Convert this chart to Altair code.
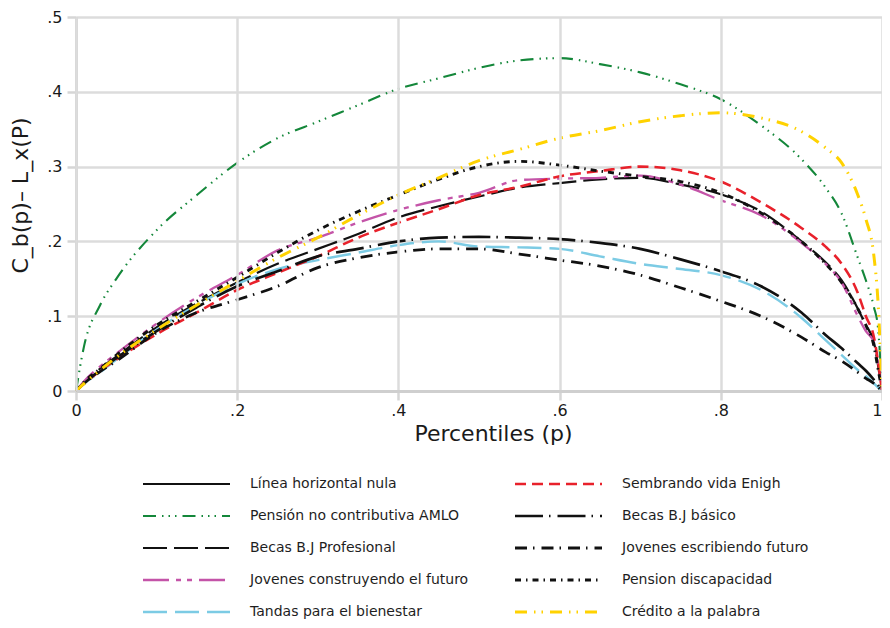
import altair as alt
import pandas as pd

# ---- data ----
P = [0, .01, .03, .05, .1, .15, .2, .25, .3, .35, .4, .45, .5, .55, .6, .65,
     .7, .75, .8, .85, .9, .93, .95, .97, .98, .99, .995, 1]

names = [
    "Línea horizontal nula",
    "Pensión no contributiva AMLO",
    "Becas B.J Profesional",
    "Jovenes construyendo el futuro",
    " Tandas para el bienestar",
    "Sembrando vida Enigh",
    "Becas B.J básico",
    "Jovenes escribiendo futuro",
    "Pension discapacidad",
    " Crédito a la palabra",
]

nula_p = [0, 1]
nula = [0, 0]
amlo = [0, .06, .115, .15, .215, .262, .305, .338, .36, .382, .404, .418, .432, .442,
        .445, .437, .426, .41, .39, .355, .31, .272, .237, .178, .148, .112, .085, 0]
profesional = [0, .011, .03, .046, .085, .117, .145, .17, .19, .21, .232, .247, .26, .272,
               .278, .283, .285, .276, .263, .24, .2, .172, .148, .11, .088, .065, .035, 0]
construyendo = [0, .013, .033, .05, .09, .125, .155, .188, .205, .225, .242, .255, .265, .282,
                .284, .285, .288, .276, .255, .235, .198, .17, .145, .1, .08, .065, .04, 0]
tandas = [0, .01, .025, .042, .082, .115, .143, .163, .175, .185, .195, .2, .193, .192,
          .19, .18, .17, .163, .155, .135, .098, .068, .048, .028, .02, .01, .005, 0]
sembrando = [0, .01, .027, .042, .076, .105, .135, .158, .18, .205, .225, .243, .262, .273,
             .287, .294, .3, .295, .28, .252, .218, .193, .17, .131, .1, .072, .04, 0]
basico = [0, .01, .028, .044, .08, .112, .14, .16, .18, .19, .2, .205, .206, .205,
          .203, .198, .19, .176, .16, .14, .105, .075, .057, .037, .027, .015, .008, 0]
escribiendo = [0, .01, .026, .04, .078, .105, .122, .14, .165, .178, .186, .19, .19, .183,
               .175, .167, .155, .138, .12, .1, .072, .052, .04, .025, .017, .01, .005, 0]
discapacidad = [0, .012, .03, .048, .088, .12, .152, .185, .215, .24, .262, .283, .3, .307,
                .302, .294, .287, .28, .265, .238, .2, .17, .145, .11, .088, .06, .03, 0]
credito = [0, .01, .028, .045, .082, .115, .147, .178, .205, .235, .262, .285, .308, .323,
           .338, .348, .36, .368, .372, .365, .347, .325, .305, .262, .23, .18, .12, 0]

x_ticks = [0, .2, .4, .6, .8, 1]
y_ticks = [0, .1, .2, .3, .4, .5]

# ---- styles ----
FONT = "DejaVu Sans"
colors = ["#111111", "#14873a", "#111111", "#c454a8", "#7ccbe4",
          "#e8212b", "#111111", "#111111", "#111111", "#ffd200"]
dashes = [[1, 0], [13, 6, 1.5, 5, 1.5, 5, 1.5, 6], [24, 7], [26, 7, 5, 6, 5, 7], [24, 8],
          [11, 6], [28, 6, 1.5, 7], [12, 6, 1.5, 7], [6, 5, 1.5, 5], [12, 7, 1.5, 6, 1.5, 7]]
widths = [2, 3, 2, 2, 2, 2, 2, 2, 2, 3.2]

PAD_L, PAD_T = 68, 9
W, H = 806, 374
PAD_B = 612 - PAD_T - H
ORIGIN_X, ORIGIN_Y = 8 + PAD_L, 8 + PAD_T

series_vals = [nula, amlo, profesional, construyendo, tandas,
               sembrando, basico, escribiendo, discapacidad, credito]

rows = []
for name, vals in zip(names, series_vals):
    ps = nula_p if vals is nula else P
    for p, v in zip(ps, vals):
        rows.append({"series": name, "p": p, "v": v})
df = pd.DataFrame(rows)

# legend table (two columns of five rows), page positions converted to plot coords
leg = []
for i, name in enumerate(names):
    col, row = divmod(i, 5)
    x0 = 143 + col * 372 - ORIGIN_X
    y = 484 + row * 32 - ORIGIN_Y
    leg.append({"series": name, "x0": x0, "x1": x0 + 87, "tx": x0 + 107, "y": y})
leg_df = pd.DataFrame(leg)

color_scale = alt.Scale(domain=names, range=colors)
dash_scale = alt.Scale(domain=names, range=dashes)
size_scale = alt.Scale(domain=names, range=widths)

fmt = "datum.value == 0 ? '0' : datum.value == 1 ? '1' : substring(format(datum.value, '.1f'), 1)"

lines = alt.Chart(df).mark_line(interpolate="monotone", strokeCap="butt").encode(
    x=alt.X("p:Q", scale=alt.Scale(domain=[0, 1], nice=False),
            axis=alt.Axis(values=x_ticks, labelExpr=fmt, title="Percentiles (p)",
                          labelFlush=False,
                          labelAlign={"condition": {"test": "datum.value == 1", "value": "right"},
                                      "value": "center"},
                          labelPadding=2, titlePadding=5, titleX=417, zindex=1)),
    y=alt.Y("v:Q", scale=alt.Scale(domain=[0, .5], nice=False),
            axis=alt.Axis(values=y_ticks, labelExpr=fmt, title="C_b(p)– L_x(P)",
                          labelPadding=5, titlePadding=14, titleY=178)),
    color=alt.Color("series:N", scale=color_scale, legend=None),
    strokeDash=alt.StrokeDash("series:N", scale=dash_scale, legend=None),
    size=alt.Size("series:N", scale=size_scale, legend=None),
    order=alt.Order("p:Q"),
)

leg_lines = alt.Chart(leg_df).mark_rule(strokeCap="butt").encode(
    x=alt.X("x0:Q", scale=None, axis=None),
    x2="x1:Q",
    y=alt.Y("y:Q", scale=None, axis=None),
    color=alt.Color("series:N", scale=color_scale, legend=None),
    strokeDash=alt.StrokeDash("series:N", scale=dash_scale, legend=None),
    size=alt.Size("series:N", scale=size_scale, legend=None),
)

leg_text = alt.Chart(leg_df).mark_text(
    align="left", baseline="middle", font=FONT, fontSize=14, color="#1e1e1e"
).encode(
    x=alt.X("tx:Q", scale=None, axis=None),
    y=alt.Y("y:Q", scale=None, axis=None),
    text="series:N",
)

chart = alt.layer(lines, leg_lines, leg_text).resolve_scale(
    x="independent", y="independent"
).properties(
    width=W, height=H,
    padding={"left": PAD_L, "top": PAD_T, "right": 0, "bottom": PAD_B},
    autosize=alt.AutoSizeParams(type="none"),
).configure_view(stroke=None).configure_axis(
    gridColor="#dcdcdc", gridWidth=2.5,
    domainColor="#cfcfcf", domainWidth=3,
    tickColor="#d6d6d6", tickWidth=2.5, tickSize=9,
    labelFont=FONT, labelFontSize=16, labelColor="#1a1a1a",
    titleFont=FONT, titleFontSize=22, titleFontWeight="normal", titleColor="#1a1a1a",
)

chart.save("out.html", embed_options={"renderer": "svg", "actions": False})
